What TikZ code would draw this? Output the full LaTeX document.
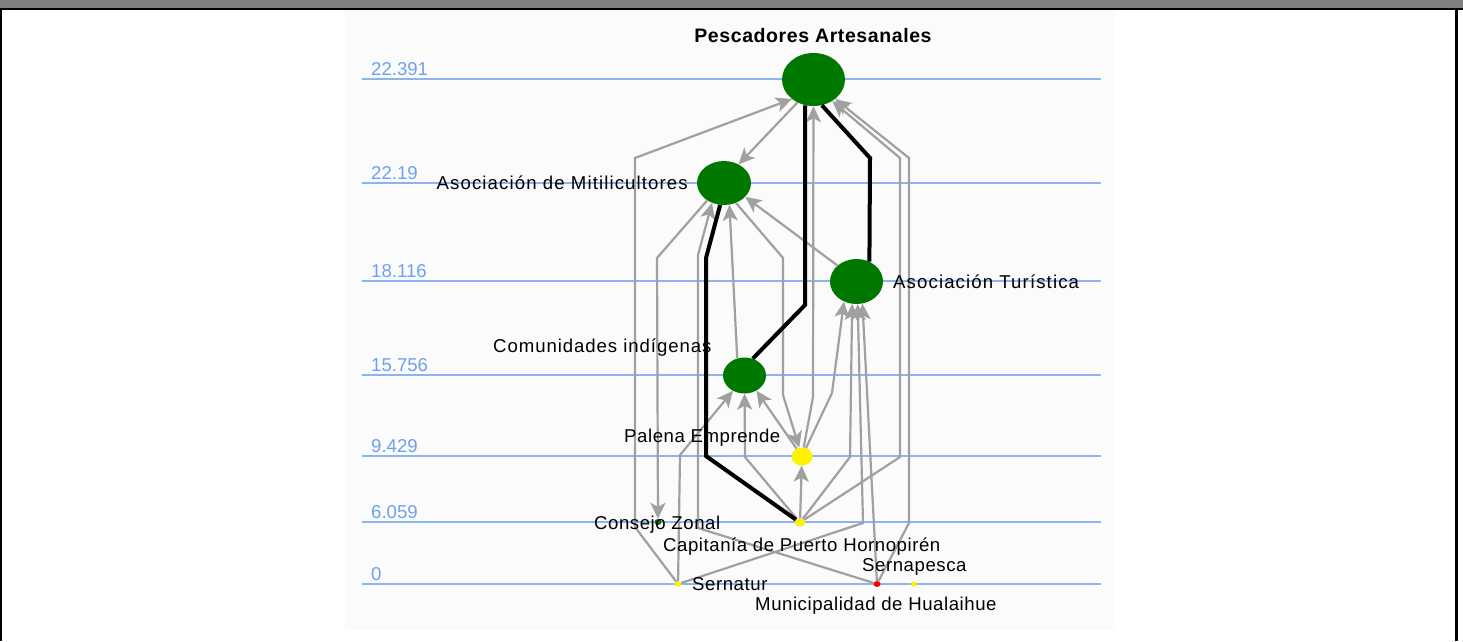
\documentclass[tikz,border=0pt]{standalone}
\usepackage{fontspec}
\setmainfont{Liberation Sans}
\newfontfamily\lblfont[LetterSpace=3]{Liberation Sans}
\newfontfamily\widefont[LetterSpace=6]{Liberation Sans}
\newfontfamily\midfont[LetterSpace=5]{Liberation Sans}
\usetikzlibrary{shapes.geometric,arrows.meta}
\definecolor{hdrgray}{RGB}{128,128,128}
\definecolor{chartbg}{RGB}{251,251,251}
\definecolor{axisblue}{RGB}{140,180,240}
\definecolor{numblue}{RGB}{110,160,240}
\definecolor{nodegreen}{RGB}{0,120,0}
\definecolor{edgegray}{RGB}{160,160,160}
\tikzset{
 actor/.style={ellipse, draw=none, fill=nodegreen, inner sep=0pt},
 dotnode/.style={ellipse, draw=none, inner sep=0pt},
 lbl/.style={inner sep=0pt, font=\lblfont\fontsize{18.6}{20}\selectfont, text=black, anchor=base west},
 widelbl/.style={lbl, font=\widefont\fontsize{18.6}{20}\selectfont},
 midlbl/.style={lbl, font=\midfont\fontsize{18.6}{20}\selectfont},
 ttl/.style={inner sep=0pt, font=\lblfont\bfseries\fontsize{19.5}{21}\selectfont, text=black, anchor=base},
 num/.style={inner sep=0pt, font=\fontsize{18.6}{20}\selectfont, text=numblue, anchor=base west},
 infl/.style={draw=edgegray, line width=2.2pt, -{Stealth[length=16pt,width=15pt,inset=4pt]}},
 strong/.style={draw=black, line width=4pt, line join=miter},
 level/.style={draw=axisblue, line width=1.5pt},
}
\begin{document}
\begin{tikzpicture}[x=1pt,y=-1pt]
\useasboundingbox (0,0) rectangle (1463,641);
\fill[white] (0,0) rectangle (1463,641);
\fill[hdrgray] (0,0) rectangle (1463,7.5);
\fill[black] (0,7.5) rectangle (1463,10);
\fill[black] (0,10) rectangle (2,641);
\fill[black] (1455,10) rectangle (1457.5,641);
\fill[chartbg] (345,10) rectangle (1115,630);
% level lines
\foreach \yy in {79,183,281,375,456,522,584} {\draw[level] (362,\yy) -- (1100.7,\yy);}
\node[num] (n1) at (371,75) {22.391};
\node[num] (n2) at (371,179) {22.19};
\node[num] (n3) at (371,277) {18.116};
\node[num] (n4) at (371,371) {15.756};
\node[num] (n5) at (371,452) {9.429};
\node[num] (n6) at (371,518) {6.059};
\node[num] (n7) at (371,580) {0};
% actors
\node[actor, minimum width=63pt, minimum height=53pt] (PA) at (813.5,79.5) {};
\node[actor, minimum width=54pt, minimum height=44pt] (AM) at (724,183) {};
\node[actor, minimum width=53pt, minimum height=45pt] (AT) at (856.5,281.5) {};
\node[actor, minimum width=43pt, minimum height=36pt] (CI) at (744.5,375.5) {};
\node[dotnode, fill=yellow, minimum width=21pt, minimum height=18pt] (PE) at (802,456.5) {};
\node[dotnode, fill=yellow, minimum width=11pt, minimum height=8pt] (CP) at (800,522.5) {};
\node[dotnode, fill=nodegreen, minimum width=7pt, minimum height=6pt] (CZ) at (658,522) {};
\node[dotnode, fill=yellow, minimum width=7pt, minimum height=5pt] (SN) at (678,584) {};
\node[dotnode, fill=red, minimum width=7pt, minimum height=6pt] (MH) at (877,584) {};
\node[dotnode, fill=yellow, minimum width=6pt, minimum height=5pt] (SP) at (914,584) {};
% influence edges
\draw[infl] (SN) -- (635,527) -- (635,158) -- (PA.222);
\draw[infl] (PA.235) -- (AM.52);
\draw[infl] (PE) -- (813,397) -- (PA);
\draw[infl] (CP) -- (900,457) -- (900,158) -- (PA.-49);
\draw[infl] (MH) -- (909,523) -- (909,158) -- (PA.-42);
\draw[infl] (AT.140) -- (AM.-33);
\draw[infl] (AM.226) -- (657,258) -- (CZ);
\draw[infl] (MH) -- (698,528) -- (698,255) -- (AM.239);
\draw[infl] (CI.113) -- (AM.-76);
\draw[infl] (AM.-59) -- (783,258) -- (783,395) -- (PE);
\draw[infl] (PE) -- (832,393) -- (AT.238);
\draw[infl] (CP) -- (850,457) -- (AT.-101);
\draw[infl] (SN) -- (863,523) -- (AT.-87);
\draw[infl] (MH) -- (AT.-75);
\draw[infl] (SN) -- (680,455) -- (CI.233);
\draw[infl] (CP) -- (745,457) -- (CI);
\draw[infl] (PE) -- (CI.-52);
\draw[infl] (CP) -- (PE);
% strong links
\draw[strong] (PA.252) -- (805,305) -- (CI.64);
\draw[strong] (PA.-72) -- (870,158) -- (AT.57);
\draw[strong] (AM.-100) -- (706,258) -- (706,456) -- (CP);
% labels
\node[ttl] (tPA) at (813,42) {Pescadores Artesanales};
\node[widelbl, anchor=base east] (tAM) at (688,189) {Asociación de Mitilicultores};
\node[widelbl] (tAT) at (893,288) {Asociación Turística};
\node[midlbl] (tCI) at (493,352) {Comunidades indígenas};
\node[lbl] (tPE) at (624,442) {Palena Emprende};
\node[lbl] (tCZ) at (594,529) {Consejo Zonal};
\node[lbl] (tCP) at (663,551) {Capitanía de Puerto Hornopirén};
\node[lbl] (tSN) at (692,590) {Sernatur};
\node[lbl] (tSP) at (862,571) {Sernapesca};
\node[lbl] (tMH) at (755,610) {Municipalidad de Hualaihue};
\end{tikzpicture}
\end{document}
